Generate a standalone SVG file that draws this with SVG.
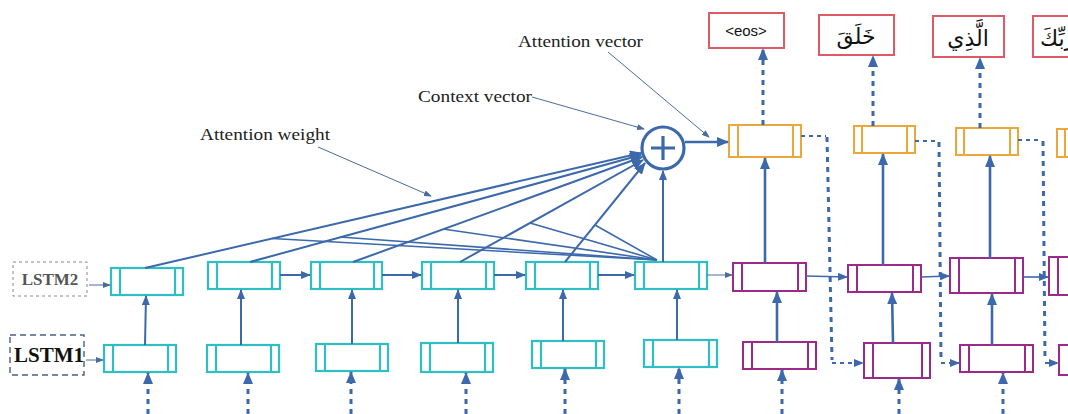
<svg xmlns="http://www.w3.org/2000/svg" width="1068" height="414" viewBox="0 0 1068 414">
<style>
.teal rect,.teal line{fill:none;stroke:#2fbfc2;stroke-width:2.2}
.purp rect,.purp line{fill:none;stroke:#9c2a8a;stroke-width:2}
.orng rect,.orng line{fill:none;stroke:#eba73a;stroke-width:2}
.red rect{fill:#fff;stroke:#de5a64;stroke-width:2}
.ar{fill:none;stroke:#3c69ab;stroke-width:2.6}
.ar2{fill:none;stroke:#3c69ab;stroke-width:2}
.th{fill:none;stroke:#3c69ab;stroke-width:1.6}
.dsh{fill:none;stroke:#3c69ab;stroke-width:3;stroke-dasharray:5 5}
.dthin{fill:none;stroke:#3c69ab;stroke-width:1.8;stroke-dasharray:4 4}
.ptr{fill:none;stroke:#4a6c9c;stroke-width:1}
.lbl{font-family:"Liberation Serif",serif;font-size:16px;fill:#222}
.ar-txt{font-family:"Noto Sans","DejaVu Sans",sans-serif;font-size:22px;fill:#111}
</style>
<defs>
<marker id="ah" markerWidth="12" markerHeight="10" refX="11" refY="5" orient="auto" markerUnits="userSpaceOnUse"><path d="M0,0 L12,5 L0,10 z" fill="#3c69ab"/></marker>
<marker id="ahm" markerWidth="10" markerHeight="8" refX="9" refY="4" orient="auto" markerUnits="userSpaceOnUse"><path d="M0,0 L10,4 L0,8 z" fill="#3c69ab"/></marker>
<marker id="ahs" markerWidth="8" markerHeight="6" refX="7" refY="3" orient="auto" markerUnits="userSpaceOnUse"><path d="M0,0 L8,3 L0,6 z" fill="#4a6c9c"/></marker>
</defs>

<g id="labels">
<text class="lbl" x="518" y="47" textLength="125" lengthAdjust="spacingAndGlyphs">Attention vector</text>
<text class="lbl" x="418" y="102" textLength="114" lengthAdjust="spacingAndGlyphs">Context vector</text>
<text class="lbl" x="200" y="140" textLength="130" lengthAdjust="spacingAndGlyphs">Attention weight</text>
</g>

<g id="lstm2-label">
<rect x="13" y="262" width="74" height="34" fill="none" stroke="#888" stroke-width="1" stroke-dasharray="3 3"/>
<text x="50" y="285" text-anchor="middle" font-family="Liberation Serif,serif" font-size="17" font-weight="bold" fill="#555">LSTM2</text>
</g>
<g id="lstm1-label">
<rect x="10" y="335" width="74" height="40" fill="none" stroke="#4a6080" stroke-width="1.4" stroke-dasharray="6 4"/>
<text x="49" y="362" text-anchor="middle" font-family="Liberation Serif,serif" font-size="21" font-weight="bold" fill="#111">LSTM1</text>
</g>

<g id="encoder-lstm2">
<g id="e2-1" class="teal"><rect x="111" y="268" width="72" height="27"/><line x1="120" y1="268" x2="120" y2="295"/><line x1="175" y1="268" x2="175" y2="295"/></g>
<g id="e2-2" class="teal"><rect x="208" y="262" width="72" height="27"/><line x1="217" y1="262" x2="217" y2="289"/><line x1="272" y1="262" x2="272" y2="289"/></g>
<g id="e2-3" class="teal"><rect x="311" y="262" width="71" height="27"/><line x1="320" y1="262" x2="320" y2="289"/><line x1="374" y1="262" x2="374" y2="289"/></g>
<g id="e2-4" class="teal"><rect x="422" y="262" width="72" height="27"/><line x1="431" y1="262" x2="431" y2="289"/><line x1="486" y1="262" x2="486" y2="289"/></g>
<g id="e2-5" class="teal"><rect x="526" y="262" width="72" height="27"/><line x1="535" y1="262" x2="535" y2="289"/><line x1="590" y1="262" x2="590" y2="289"/></g>
<g id="e2-6" class="teal"><rect x="635" y="262" width="72" height="27"/><line x1="644" y1="262" x2="644" y2="289"/><line x1="699" y1="262" x2="699" y2="289"/></g>
</g>
<g id="encoder-lstm1">
<g id="e1-1" class="teal"><rect x="104" y="345" width="72" height="27"/><line x1="113" y1="345" x2="113" y2="372"/><line x1="168" y1="345" x2="168" y2="372"/></g>
<g id="e1-2" class="teal"><rect x="207" y="345" width="72" height="27"/><line x1="216" y1="345" x2="216" y2="372"/><line x1="271" y1="345" x2="271" y2="372"/></g>
<g id="e1-3" class="teal"><rect x="316" y="344" width="72" height="27"/><line x1="325" y1="344" x2="325" y2="371"/><line x1="380" y1="344" x2="380" y2="371"/></g>
<g id="e1-4" class="teal"><rect x="421" y="343" width="72" height="29"/><line x1="430" y1="343" x2="430" y2="372"/><line x1="485" y1="343" x2="485" y2="372"/></g>
<g id="e1-5" class="teal"><rect x="532" y="341" width="72" height="27"/><line x1="541" y1="341" x2="541" y2="368"/><line x1="596" y1="341" x2="596" y2="368"/></g>
<g id="e1-6" class="teal"><rect x="644" y="340" width="73" height="27"/><line x1="653" y1="340" x2="653" y2="367"/><line x1="709" y1="340" x2="709" y2="367"/></g>
</g>

<g id="decoder-lstm2">
<g id="d2-1" class="purp"><rect x="733" y="263" width="73" height="28"/><line x1="742" y1="263" x2="742" y2="291"/><line x1="798" y1="263" x2="798" y2="291"/></g>
<g id="d2-2" class="purp"><rect x="848" y="265" width="73" height="27"/><line x1="857" y1="265" x2="857" y2="292"/><line x1="913" y1="265" x2="913" y2="292"/></g>
<g id="d2-3" class="purp"><rect x="950" y="258" width="73" height="35"/><line x1="959" y1="258" x2="959" y2="293"/><line x1="1015" y1="258" x2="1015" y2="293"/></g>
<g id="d2-4" class="purp"><rect x="1049" y="257" width="40" height="38"/><line x1="1058" y1="257" x2="1058" y2="295"/></g>
</g>
<g id="decoder-lstm1">
<g id="d1-1" class="purp"><rect x="743" y="342" width="73" height="27"/><line x1="752" y1="342" x2="752" y2="369"/><line x1="808" y1="342" x2="808" y2="369"/></g>
<g id="d1-2" class="purp"><rect x="864" y="343" width="66" height="35"/><line x1="873" y1="343" x2="873" y2="378"/><line x1="922" y1="343" x2="922" y2="378"/></g>
<g id="d1-3" class="purp"><rect x="960" y="345" width="73" height="27"/><line x1="969" y1="345" x2="969" y2="372"/><line x1="1025" y1="345" x2="1025" y2="372"/></g>
<g id="d1-4" class="purp"><rect x="1059" y="345" width="30" height="30"/></g>
</g>
<g id="attention-layer">
<g id="o-1" class="orng"><rect x="729" y="125" width="72" height="32"/><line x1="738" y1="125" x2="738" y2="157"/><line x1="793" y1="125" x2="793" y2="157"/></g>
<g id="o-2" class="orng"><rect x="854" y="126" width="61" height="27"/><line x1="862" y1="126" x2="862" y2="153"/><line x1="907" y1="126" x2="907" y2="153"/></g>
<g id="o-3" class="orng"><rect x="956" y="128" width="62" height="27"/><line x1="964" y1="128" x2="964" y2="155"/><line x1="1010" y1="128" x2="1010" y2="155"/></g>
<g id="o-4" class="orng"><rect x="1057" y="129" width="30" height="28"/><line x1="1065" y1="129" x2="1065" y2="157"/></g>
</g>
<g id="outputs">
<g id="out-1" class="red"><rect x="709" y="13" width="75" height="35"/><text x="746" y="36" text-anchor="middle" font-family="Liberation Sans,Arial,sans-serif" font-size="15" fill="#111">&lt;eos&gt;</text></g>
<g id="out-2" class="red"><rect x="819" y="15" width="75" height="40"/><text class="ar-txt" x="856" y="44" text-anchor="middle">خَلَقَ</text></g>
<g id="out-3" class="red"><rect x="933" y="16" width="71" height="41"/><text class="ar-txt" x="968" y="46" text-anchor="middle">الَّذِي</text></g>
<g id="out-4" class="red"><rect x="1033" y="16" width="45" height="41"/><text class="ar-txt" x="1040" y="46">رَبِّكَ</text></g>
</g>

<g id="sum">
<circle cx="663" cy="148" r="21" fill="#fff" stroke="#3c69ab" stroke-width="3.2"/>
<path d="M663,136 V160 M651,148 H675" stroke="#3c69ab" stroke-width="3.2"/>
</g>

<g id="connectors">
<path class="ptr" d="M318,147 L431,196" marker-end="url(#ahs)"/>
<path class="ptr" d="M532,97 L644,129" marker-end="url(#ahs)"/>
<path class="ptr" d="M608,52 L709,137" marker-end="url(#ahs)"/>
<path class="ar2" d="M145,268 L641,153" marker-end="url(#ah)"/>
<path class="ar2" d="M250,262 L641,155" marker-end="url(#ah)"/>
<path class="ar2" d="M353,262 L642,157" marker-end="url(#ah)"/>
<path class="ar2" d="M460,262 L643,160" marker-end="url(#ah)"/>
<path class="ar2" d="M565,262 L645,163" marker-end="url(#ah)"/>
<path class="th" d="M657,260 L272,238.5"/>
<path class="th" d="M657,260 L340,237"/>
<path class="th" d="M657,260 L443,229"/>
<path class="th" d="M657,260 L530,223"/>
<path class="th" d="M657,260 L595,225"/>
<path class="ar2" d="M663,262 L663,171" marker-end="url(#ahm)"/>
<path class="ar" d="M685,142 L728,142" marker-end="url(#ah)"/>
<path class="ptr" d="M89,285 L110,285" marker-end="url(#ahs)"/>
<path class="ptr" d="M86,360 L103,360" marker-end="url(#ahs)"/>
<path class="ar2" d="M280,275 L310,275" marker-end="url(#ahm)"/>
<path class="ar2" d="M382,275 L421,275" marker-end="url(#ahm)"/>
<path class="ar2" d="M494,275 L525,275" marker-end="url(#ahm)"/>
<path class="ar2" d="M598,275 L634,275" marker-end="url(#ahm)"/>
<path class="ptr" d="M707,275 L732,275" marker-end="url(#ahs)"/>
<path class="th" d="M806,276 L847,277" marker-end="url(#ahm)"/>
<path class="th" d="M921,277 L949,276" marker-end="url(#ahm)"/>
<path class="th" d="M1023,277 L1048,277" marker-end="url(#ahm)"/>
<path class="ar2" d="M145,345 L146,296" marker-end="url(#ahm)"/>
<path class="ar2" d="M241,345 L241,290" marker-end="url(#ahm)"/>
<path class="ar2" d="M352,344 L352,290" marker-end="url(#ahm)"/>
<path class="ar2" d="M458,343 L458,290" marker-end="url(#ahm)"/>
<path class="ar2" d="M563,341 L563,290" marker-end="url(#ahm)"/>
<path class="ar2" d="M677,340 L677,290" marker-end="url(#ahm)"/>
<path class="ar" d="M777,342 L777,292" marker-end="url(#ah)"/>
<path class="ar" d="M893,343 L892,293" marker-end="url(#ah)"/>
<path class="ar" d="M992,345 L992,294" marker-end="url(#ah)"/>
<path class="ar" d="M765,263 L765,158" marker-end="url(#ah)"/>
<path class="ar" d="M883,265 L883,154" marker-end="url(#ah)"/>
<path class="ar" d="M990,258 L990,156" marker-end="url(#ah)"/>
<path class="dsh" d="M763,125 L763,49" marker-end="url(#ah)"/>
<path class="dsh" d="M873,126 L873,56" marker-end="url(#ah)"/>
<path class="dsh" d="M980,128 L980,58" marker-end="url(#ah)"/>
<path class="dthin" d="M801,136 L826,136"/>
<path class="dsh" d="M827,137 L832,360"/>
<path class="dthin" d="M832,363 L863,363" marker-end="url(#ahm)"/>
<path class="dthin" d="M915,141 L938,141"/>
<path class="dsh" d="M939,142 L941,360"/>
<path class="dthin" d="M941,363 L959,363" marker-end="url(#ahm)"/>
<path class="dthin" d="M1018,140 L1042,140"/>
<path class="dsh" d="M1043,141 L1045,360"/>
<path class="dthin" d="M1045,363 L1058,363" marker-end="url(#ahm)"/>
<path class="dsh" d="M148,414 L148,373" marker-end="url(#ah)"/>
<path class="dsh" d="M248,414 L248,373" marker-end="url(#ah)"/>
<path class="dsh" d="M351,414 L351,372" marker-end="url(#ah)"/>
<path class="dsh" d="M466,414 L466,373" marker-end="url(#ah)"/>
<path class="dsh" d="M565,414 L565,369" marker-end="url(#ah)"/>
<path class="dsh" d="M679,414 L679,368" marker-end="url(#ah)"/>
<path class="dsh" d="M782,414 L782,370" marker-end="url(#ah)"/>
<path class="dsh" d="M899,414 L899,379" marker-end="url(#ah)"/>
<path class="dsh" d="M1003,414 L1003,373" marker-end="url(#ah)"/>
</g>
</svg>
